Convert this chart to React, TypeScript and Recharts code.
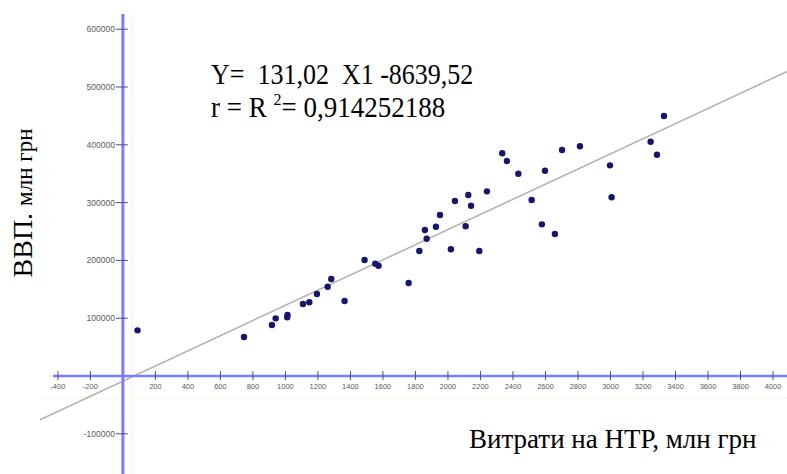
import { ScatterChart, Scatter, XAxis, YAxis, ReferenceLine } from "recharts"

// spending on R&D (x) vs GDP (y)
const spendX = [90, 745, 917, 940, 1011, 1013, 1108, 1147, 1194, 1260, 1282, 1364, 1487, 1553, 1573, 1758, 1824, 1858, 1869, 1926, 1951, 2018, 2043, 2109, 2125, 2142, 2193, 2240, 2334, 2363, 2433, 2515, 2578, 2597, 2658, 2702, 2812, 2997, 3007, 3247, 3286, 3329]
const gdpY = [79000, 67500, 88200, 99800, 101500, 105500, 124600, 127500, 141900, 154500, 167800, 129800, 200700, 194300, 190800, 160900, 216300, 252600, 237600, 258300, 278500, 219200, 302800, 259000, 313100, 294600, 216300, 319500, 385300, 372000, 350000, 304500, 262400, 355200, 245700, 391000, 397400, 364500, 309200, 405400, 382900, 449800]

// trend line end points as drawn
const trendX = [-510, 4086]
const trendY = [-75500, 526700]

const xTicks = [-400, -200, 200, 400, 600, 800, 1000, 1200, 1400, 1600, 1800, 2000, 2200, 2400, 2600, 2800, 3000, 3200, 3400, 3600, 3800, 4000]
const yTicks = [-100000, 100000, 200000, 300000, 400000, 500000, 600000]

const W = 787
const H = 474
const axisBlue = "#7c7cff"
const tickInk = "#4c4c8c"
const labelInk = "#5a5a5a"

const points = spendX.map((x, i) => ({ x, y: gdpY[i] }))
const xTickData = xTicks.map((x) => ({ x, y: 0 }))
const yTickData = yTicks.map((y) => ({ x: 0, y }))

const XTick = (p: any) => (
  <g>
    <line x1={p.cx} y1={p.cy - 5} x2={p.cx} y2={p.cy + 4} stroke={tickInk} strokeWidth={1} />
    <text x={p.cx} y={p.cy + 13} textAnchor="middle" fontSize={7.5} fill={labelInk} fontFamily="Liberation Sans">
      {p.payload.x}
    </text>
  </g>
)

const YTick = (p: any) => (
  <g>
    <line x1={p.cx - 7} y1={p.cy} x2={p.cx + 5} y2={p.cy} stroke={tickInk} strokeWidth={1} />
    <text x={p.cx - 8} y={p.cy + 3} textAnchor="end" fontSize={8.5} fill={labelInk} fontFamily="Liberation Sans">
      {p.payload.y}
    </text>
  </g>
)

const Dot = (p: any) => <circle cx={p.cx} cy={p.cy} r={3.2} fill="#16166a" />

export default function App() {
  return (
    <div style={{ position: "absolute", left: 0, top: 0, width: W, height: H, background: "#fff" }}>
      <ScatterChart width={W} height={H} margin={{ top: 14, right: 0, bottom: 0, left: 40 }}>
        <XAxis type="number" dataKey="x" domain={[-510, 4086]} allowDataOverflow hide />
        <YAxis type="number" dataKey="y" domain={[-169500, 626300]} allowDataOverflow hide />
        <ReferenceLine x={55} stroke="#f7f4d6" strokeWidth={1} />
        <ReferenceLine y={-38000} stroke="#f4f0c8" strokeWidth={1} strokeDasharray="2 2" />
        <ReferenceLine
          segment={[{ x: trendX[0], y: trendY[0] }, { x: trendX[1], y: trendY[1] }]}
          stroke="#b4b4b4"
          strokeWidth={1.6}
          ifOverflow="visible"
        />
        <ReferenceLine segment={[{ x: -430, y: 0 }, { x: 4086, y: 0 }]} stroke={axisBlue} strokeWidth={2.5} />
        <ReferenceLine x={0} stroke={axisBlue} strokeWidth={3} />
        <Scatter data={xTickData} shape={XTick} isAnimationActive={false} />
        <Scatter data={yTickData} shape={YTick} isAnimationActive={false} />
        <Scatter data={points} shape={Dot} isAnimationActive={false} />
      </ScatterChart>
      <svg width={W} height={H} style={{ position: "absolute", left: 0, top: 0, pointerEvents: "none" }}>
        <g fontFamily="Liberation Serif" fill="#000">
          <text transform="translate(211,84) scale(1,1.12)" fontSize={26} style={{ whiteSpace: "pre" }}>
            {"Y=  131,02  X1 -8639,52"}
          </text>
          <text transform="translate(211,117) scale(1,1.1)" fontSize={27} style={{ whiteSpace: "pre" }}>
            {"r = R "}
            <tspan fontSize={16} dy={-11}>2</tspan>
            <tspan dy={11}>{"= 0,914252188"}</tspan>
          </text>
          <text x={469} y={448} fontSize={27}>
            Витрати на НТР, млн грн
          </text>
          <text transform="translate(32,203) rotate(-90)" textAnchor="middle" style={{ whiteSpace: "pre" }}>
            <tspan fontSize={28}>{"ВВП. "}</tspan>
            <tspan fontSize={23}>млн грн</tspan>
          </text>
        </g>
      </svg>
    </div>
  )
}
